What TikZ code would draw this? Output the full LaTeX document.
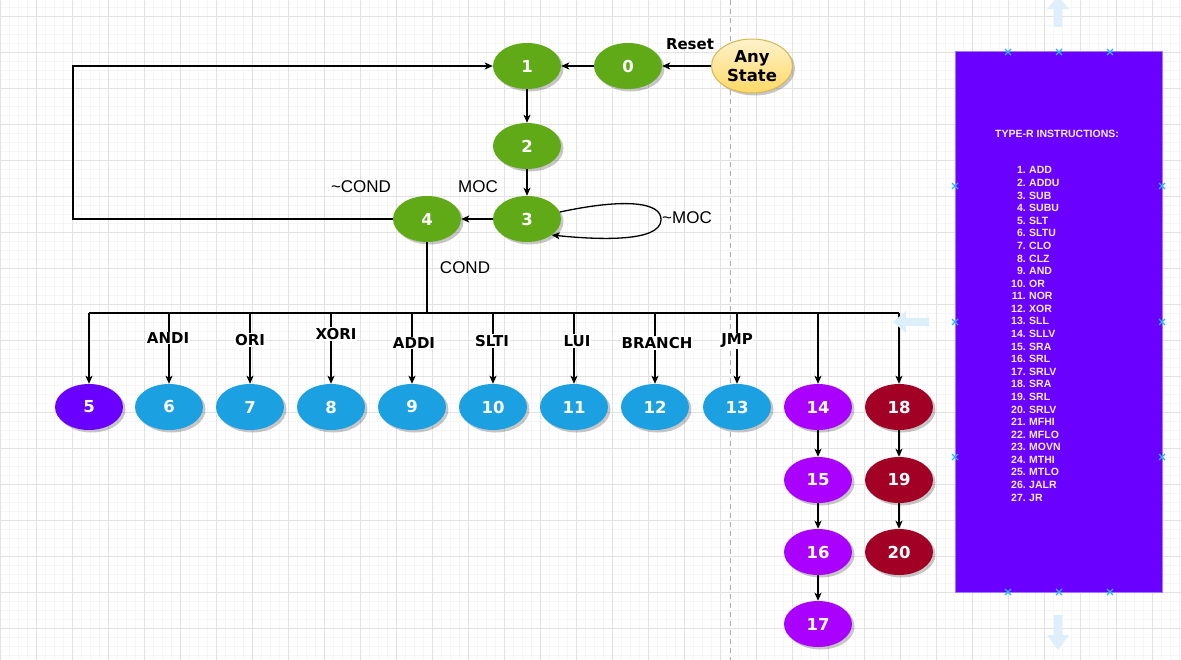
\documentclass[tikz,border=0pt]{standalone}
\usepackage{fontspec}
\setmainfont{Liberation Sans}
\newfontfamily\dvs{DejaVu Sans}
\usetikzlibrary{shapes.geometric,arrows.meta,shadows}
\definecolor{dgreen}{HTML}{60A917}
\definecolor{dblue}{HTML}{1BA1E2}
\definecolor{dviolet}{HTML}{6A00FF}
\definecolor{dpurple}{HTML}{AA00FF}
\definecolor{dred}{HTML}{A20025}
\definecolor{ylwA}{HTML}{FFF2CC}
\definecolor{ylwB}{HTML}{FFD966}
\definecolor{ylwD}{HTML}{D6B656}
\definecolor{xblue}{HTML}{29B6F2}
\definecolor{pale}{HTML}{DCEFFB}
\definecolor{gridmaj}{HTML}{E2E2E2}
\definecolor{gridmin}{HTML}{F6F6F6}
\definecolor{boxedge}{HTML}{9A7BFF}
\definecolor{listtxt}{HTML}{F2EEFF}
\tikzset{
  st/.style={ellipse, minimum width=68pt, minimum height=46pt, inner sep=0pt,
    text=white, font=\dvs\bfseries\fontsize{16.5}{18}\selectfont,
    drop shadow={shadow xshift=2.5pt, shadow yshift=-2.5pt, fill=black, opacity=0.22}},
  green/.style={st, fill=dgreen},
  blue/.style={st, fill=dblue},
  violet/.style={st, fill=dviolet},
  purp/.style={st, fill=dpurple},
  red/.style={st, fill=dred},
  arr/.style={line width=1.3pt, -{Stealth[length=8pt,width=7pt,inset=2pt]}},
  ln/.style={line width=1.3pt},
  blab/.style={font=\dvs\bfseries\fontsize{15}{17}\selectfont, fill=white, inner sep=1pt},
  rlab/.style={font=\fontsize{17}{19}\selectfont, inner sep=1pt},
  itm/.style={font=\bfseries\fontsize{10.5}{12}\selectfont, text=listtxt, inner sep=0pt},
  xmark/.style={xblue, line width=1.2pt},
  hint/.style={fill=pale, draw=none}
}
\begin{document}
\begin{tikzpicture}[x=1pt,y=-1pt]
\useasboundingbox (0,0) rectangle (1181,660);
\fill[white] (0,0) rectangle (1181,660);
% grid
\foreach \i in {0,...,131} {\draw[gridmin, line width=0.8pt] (9*\i,0) -- (9*\i,660);}
\foreach \j in {0,...,73} {\draw[gridmin, line width=0.8pt] (0,7+9*\j) -- (1181,7+9*\j);}
\foreach \i in {0,...,32} {\draw[gridmaj, line width=0.9pt] (36*\i,0) -- (36*\i,660);}
\foreach \j in {0,...,18} {\draw[gridmaj, line width=0.9pt] (0,16+36*\j) -- (1181,16+36*\j);}
% page break line
\draw[black!30, line width=1pt, dash pattern=on 5pt off 4pt] (730,0) -- (730,660);

% top nodes
\node[green] (n1) at (527,66) {1};
\node[green] (n0) at (628,66) {0};
\node[ellipse, minimum width=81pt, minimum height=54pt, inner sep=0pt, draw=ylwD, line width=1pt,
  top color=ylwA, bottom color=ylwB, align=center,
  font=\dvs\bfseries\fontsize{16.5}{18.5}\selectfont,
  drop shadow={shadow xshift=2.5pt, shadow yshift=-2.5pt, fill=black, opacity=0.22}] (any) at (752,66) {Any\\State};
\node[green] (n2) at (527,146) {2};
\node[green] (n3) at (527,219) {3};
\node[green] (n4) at (427,219) {4};

\node[font=\dvs\bfseries\fontsize{15}{17}\selectfont, inner sep=0pt] (lreset) at (690,44) {Reset};
\node[rlab] (lncond) at (361,187) {\textasciitilde COND};
\node[rlab] (lmoc) at (478,187) {MOC};
\node[rlab] (lcond) at (465,268) {COND};
\node[rlab, anchor=west] (lnmoc) at (661,218) {\textasciitilde MOC};

\draw[arr] (any.west) -- (n0.east);
\draw[arr] (n0.west) -- (n1.east);
\draw[arr] (n1.south) -- (n2.north);
\draw[arr] (n2.south) -- (n3.north);
\draw[arr] (n3.west) -- (n4.east);
\coordinate (loopc) at (73,219);
\draw[arr] (n4.west) -- (loopc) |- (n1.west);
\draw[arr] (n3.12) .. controls (625,198) and (662,202) .. (661,220)
   .. controls (660,242) and (600,240) .. (n3.-33);

% bottom row
\node[violet] (n5) at (89,407) {5};
\node[blue] (n6) at (169,407) {6};
\node[blue] (n7) at (250,407) {7};
\node[blue] (n8) at (331,407) {8};
\node[blue] (n9) at (412,407) {9};
\node[blue] (n10) at (493,407) {10};
\node[blue] (n11) at (574,407) {11};
\node[blue] (n12) at (655,407) {12};
\node[blue] (n13) at (737,407) {13};
\node[purp] (n14) at (818,407) {14};
\node[red] (n18) at (899,407) {18};
\node[purp] (n15) at (818,480) {15};
\node[purp] (n16) at (818,552) {16};
\node[purp] (n17) at (818,624) {17};
\node[red] (n19) at (899,480) {19};
\node[red] (n20) at (899,552) {20};

\coordinate (bus) at (427,313);
\draw[ln] (n4.south) -- (bus);
\draw[ln] (n5.north |- bus) -- (n18.north |- bus);
\foreach \k in {5,6,7,8,9,10,11,12,13,14,18} {
  \draw[arr] (n\k.north |- bus) -- (n\k.north);
}
\node[blab] (l6) at (168,338) {ANDI};
\node[blab] (l7) at (250,340) {ORI};
\node[blab] (l8) at (336,334) {XORI};
\node[blab] (l9) at (414,343) {ADDI};
\node[blab] (l10) at (492,341) {SLTI};
\node[blab] (l11) at (577,341) {LUI};
\node[blab] (l12) at (657,343) {BRANCH};
\node[blab] (l13) at (737,341) {JMP};

\draw[arr] (n14.south) -- (n15.north);
\draw[arr] (n15.south) -- (n16.north);
\draw[arr] (n16.south) -- (n17.north);
\draw[arr] (n18.south) -- (n19.north);
\draw[arr] (n19.south) -- (n20.north);

% instruction box
\draw[fill=dviolet, draw=boxedge, line width=0.8pt] (955,51) rectangle (1162,592);
\node[itm] (title) at (1057,134) {TYPE-R INSTRUCTIONS:};
\foreach \t [count=\i] in {ADD,ADDU,SUB,SUBU,SLT,SLTU,CLO,CLZ,AND,OR,NOR,XOR,SLL,SLLV,SRA,SRL,SRLV,SRA,SRL,SRLV,MFHI,MFLO,MOVN,MTHI,MTLO,JALR,JR} {
  \node[itm, anchor=base east] (num\i) at (1026,{174+12.58*(\i-1)}) {\i.};
  \node[itm, anchor=base west] (ins\i) at (1029,{174+12.58*(\i-1)}) {\t};
}
% selection handles
\foreach \p in {(1008,52),(1059,52),(1110,52),(955,186),(1162,186),(955,322),(1162,322),(955,457),(1162,457),(1008,592),(1059,592),(1110,592)} {
  \draw[xmark] \p ++(-3,-3) -- ++(6,6) \p ++(-3,3) -- ++(6,-6);
}
% pale hover arrows
\fill[hint] (1054,27) -- (1062,27) -- (1062,9) -- (1069,9) -- (1058,-3) -- (1047,9) -- (1054,9) -- cycle;
\fill[hint] (1054,615) -- (1062,615) -- (1062,635) -- (1069,635) -- (1058,650) -- (1047,635) -- (1054,635) -- cycle;
\fill[hint] (929,318) -- (929,326) -- (906,326) -- (906,333) -- (893,322) -- (906,311) -- (906,318) -- cycle;
\end{tikzpicture}
\end{document}
